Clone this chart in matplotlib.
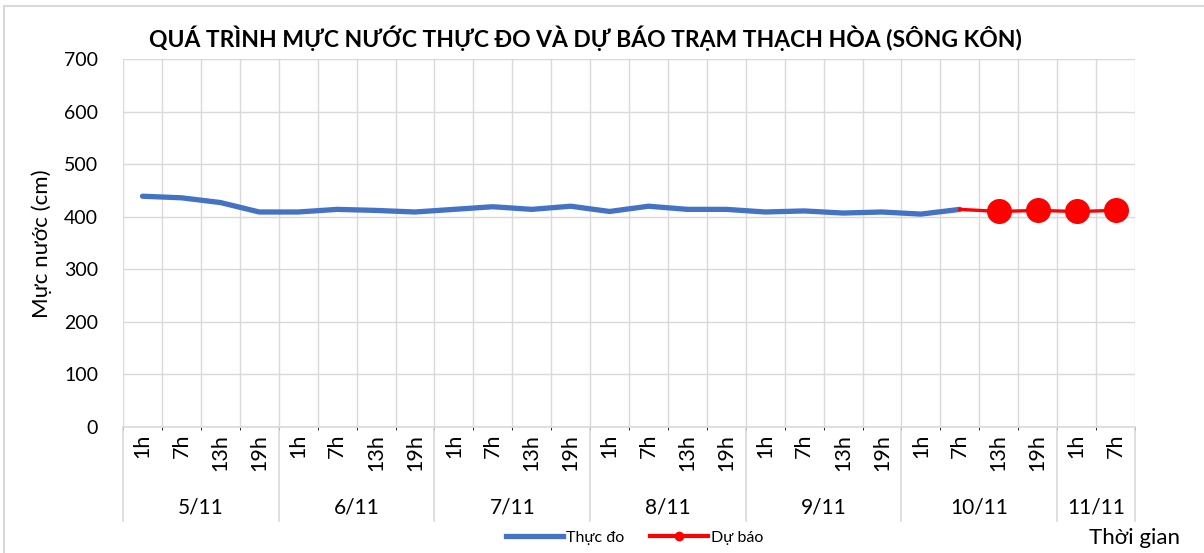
import numpy as np
import matplotlib
matplotlib.use("Agg")
import matplotlib.pyplot as plt
from matplotlib.patches import Rectangle
from matplotlib.lines import Line2D
import matplotlib.transforms as mtransforms

plt.rcParams['font.family'] = ['Lato', 'DejaVu Sans']

# data
days = ["5/11", "6/11", "7/11", "8/11", "9/11", "10/11", "11/11"]
hours_per_day = [4, 4, 4, 4, 4, 4, 2]
hours = ["1h", "7h", "13h", "19h"]
observed = [439, 436, 427, 409, 409, 414, 412, 409,
            414, 419, 414, 420, 410, 420, 414, 414,
            409, 411, 407, 409, 405, 414]
forecast = [414, 410, 412, 410, 412]

hour_labels = []
for n in hours_per_day:
    hour_labels += hours[:n]
N = len(hour_labels)
x = np.arange(N)

fig = plt.figure(figsize=(12.04, 5.53), dpi=100)
fig.patches.append(Rectangle((0.003, -0.01), 1.1, 1.0, transform=fig.transFigure,
                             fill=False, edgecolor='#d9d9d9', linewidth=1.5))
ax = fig.add_axes([0.1022, 0.2278, 0.8405, 0.6655])

ax.plot(x[:len(observed)], observed, color='#4472C4', linewidth=3.8,
        solid_capstyle='round', label='Thực đo', zorder=3)
fx = x[len(observed) - 1:len(observed) - 1 + len(forecast)]
ax.plot(fx, forecast, color='#FF0000', linewidth=2.4, zorder=4)
ax.plot(fx[1:], forecast[1:], 'o', color='#FF0000', markersize=17, zorder=5)

ax.set_xlim(-0.5, N - 0.5)
ax.set_ylim(0, 700)
ax.set_yticks(range(0, 701, 100))
ax.tick_params(axis='y', length=0, labelsize=14, pad=18)
ax.set_xticks(x)
ax.set_xticklabels(hour_labels, rotation=90, fontsize=15.5)
ax.tick_params(axis='x', length=0, pad=5)
ax.set_xticks(np.arange(-0.5, N, 1), minor=True)
ax.grid(True, axis='y', color='#d9d9d9', linewidth=1)
ax.grid(True, axis='x', which='minor', color='#d9d9d9', linewidth=1)
ax.grid(False, axis='x', which='major')
for s in ['top', 'right', 'left']:
    ax.spines[s].set_visible(False)
ax.spines['bottom'].set_color('#d9d9d9')
ax.spines['bottom'].set_linewidth(1.2)
ax.set_axisbelow(True)

# second level of category axis
trans = mtransforms.blended_transform_factory(ax.transData, fig.transFigure)
start = -0.5
bounds = [start]
for d, n in zip(days, hours_per_day):
    fig.text(start + n / 2, 0.0814, d, transform=trans, ha='center',
             va='center', fontsize=15)
    start += n
    bounds.append(start)
for b in bounds:
    fig.add_artist(Line2D([b, b], [0.2278, 0.058], transform=trans,
                          color='#d9d9d9', linewidth=1.2))

fig.text(0.486, 0.931, "QUÁ TRÌNH MỰC NƯỚC THỰC ĐO VÀ DỰ BÁO TRẠM THẠCH HÒA (SÔNG KÔN)",
         ha='center', va='center', fontsize=16.5, fontweight='bold')
fig.text(0.035, 0.56, "Mực nước (cm)", rotation=90, ha='center', va='center', fontsize=16)
fig.text(0.942, 0.027, "Thời gian", ha='center', va='center', fontsize=16)

handles = [Line2D([], [], color='#4472C4', linewidth=3.8),
           Line2D([], [], color='#FF0000', linewidth=3, marker='o', markersize=6)]
fig.legend(handles, ['Thực đo', 'Dự báo'], loc='center', bbox_to_anchor=(0.527, 0.028),
           ncol=2, frameon=False, fontsize=11.5, handlelength=3.6, handletextpad=0.2,
           columnspacing=1.6)

fig.savefig("out.png", dpi=100)
